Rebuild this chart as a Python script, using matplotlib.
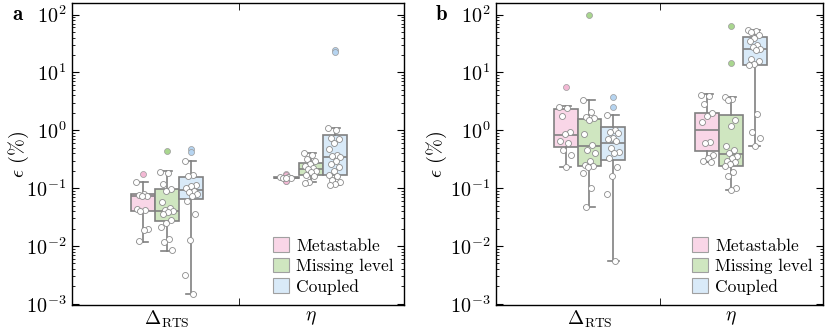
"""Box + strip plot of relative error for two parameter sets (panels a and b)."""

import matplotlib

matplotlib.use("Agg")
import matplotlib.pyplot as plt
import numpy as np
from matplotlib.patches import Patch

# ---------------------------------------------------------------- data
metrics = [r"$\Delta_{\mathrm{RTS}}$", r"$\eta$"]
models = ["Metastable", "Missing level", "Coupled"]
fill_colors = ["#f9d6e7", "#cfe6c0", "#d9eaf8"]
flier_colors = ["#f3b8d4", "#a9d68f", "#b6d4f0"]

# box statistics: (whislo, q1, med, q3, whishi), per panel -> metric -> model
stats_a = [
    [(0.0118, 0.0395, 0.074, 0.079, 0.13),
     (0.0083, 0.0273, 0.0395, 0.096, 0.195),
     (0.00147, 0.0647, 0.0927, 0.157, 0.298)],
    [(0.145, 0.148, 0.152, 0.157, 0.160),
     (0.126, 0.171, 0.214, 0.267, 0.405),
     (0.115, 0.171, 0.349, 0.84, 1.1)],
]
stats_b = [
    [(0.234, 0.52, 0.83, 2.34, 2.6),
     (0.0476, 0.244, 0.526, 1.57, 3.38),
     (0.00555, 0.31, 0.60, 1.12, 1.84)],
    [(0.28, 0.43, 1.01, 1.99, 4.25),
     (0.093, 0.237, 0.39, 1.84, 3.7),
     (0.54, 13.6, 25.5, 41.6, 55.0)],
]

fliers_a = [
    [[0.175], [0.444], [0.48, 0.415]],
    [[0.175, 0.17, 0.135, 0.132], [], [24.5, 22.3]],
]
fliers_b = [
    [[5.5], [100.0], [3.7, 2.5]],
    [[], [64.0, 14.6], []],
]

points_a = [
    [[0.13, 0.078, 0.076, 0.074, 0.072, 0.044, 0.042, 0.040, 0.020, 0.019, 0.012],
     [0.19, 0.185, 0.12, 0.095, 0.09, 0.058, 0.045, 0.042, 0.040, 0.038, 0.036,
      0.028, 0.025, 0.021, 0.013, 0.0115, 0.0085],
     [0.30, 0.17, 0.16, 0.115, 0.11, 0.10, 0.09, 0.085, 0.078, 0.072, 0.06,
      0.036, 0.0128, 0.0032, 0.0015]],
    [[0.158, 0.155, 0.152, 0.150, 0.148],
     [0.40, 0.38, 0.32, 0.30, 0.26, 0.24, 0.22, 0.21, 0.20, 0.19, 0.17, 0.16,
      0.13, 0.125],
     [1.1, 1.0, 0.75, 0.72, 0.6, 0.48, 0.38, 0.36, 0.34, 0.30, 0.26, 0.23, 0.20,
      0.17, 0.16, 0.14, 0.13, 0.12, 0.115]],
]
points_b = [
    [[2.5, 2.45, 1.75, 0.95, 0.85, 0.65, 0.6, 0.45, 0.38, 0.23],
     [3.3, 2.1, 1.7, 1.6, 1.5, 0.85, 0.55, 0.45, 0.4, 0.3, 0.25, 0.24, 0.23,
      0.18, 0.1, 0.048],
     [1.85, 1.0, 0.95, 0.9, 0.75, 0.7, 0.65, 0.5, 0.42, 0.4, 0.33, 0.23, 0.16,
      0.078, 0.0055]],
    [[4.1, 3.9, 2.9, 2.0, 1.8, 1.4, 0.62, 0.6, 0.37, 0.33, 0.29, 0.28],
     [3.8, 3.5, 3.3, 1.5, 1.2, 0.53, 0.45, 0.4, 0.36, 0.33, 0.3, 0.28, 0.26,
      0.24, 0.19, 0.16, 0.1, 0.093],
     [55, 52, 50, 45, 40, 35, 30, 27, 25, 24, 17, 16, 14, 13.5, 1.9, 0.95,
      0.75, 0.54]],
]

# letter, stats, fliers, points, axes rect, letter x (px), ylabel x (axes frac)
panels = [
    ("a", stats_a, fliers_a, points_a, [72 / 830, 26 / 331, 332 / 830, 302 / 331], 12, -0.125),
    ("b", stats_b, fliers_b, points_b, [496 / 830, 26 / 331, 327 / 830, 302 / 331], 436, -0.145),
]

plt.rcParams.update(
    {
        "font.family": "cmr10",
        "mathtext.fontset": "cm",
        "axes.unicode_minus": False,
        "axes.formatter.use_mathtext": True,
        "font.size": 14,
    }
)

EDGE = "#808080"
BOX_W = 0.168
OFFSETS = [-BOX_W, 0.0, BOX_W]

fig = plt.figure(figsize=(8.3, 3.31), dpi=100)

for letter, stats, fliers, points, rect, letter_x, ylab_x in panels:
    ax = fig.add_axes(rect)
    ax.set_yscale("log")
    for m, _ in enumerate(metrics):
        for k, _ in enumerate(models):
            lo, q1, med, q3, hi = stats[m][k]
            pos = m + OFFSETS[k]
            bstat = dict(whislo=lo, q1=q1, med=med, q3=q3, whishi=hi, fliers=fliers[m][k])
            ax.bxp(
                [bstat], positions=[pos], widths=BOX_W, capwidths=0.075,
                patch_artist=True, manage_ticks=False,
                boxprops=dict(facecolor=fill_colors[k], edgecolor=EDGE, linewidth=1.2),
                medianprops=dict(color=EDGE, linewidth=1.2),
                whiskerprops=dict(color=EDGE, linewidth=1.2),
                capprops=dict(color=EDGE, linewidth=1.2),
                flierprops=dict(marker="o", markersize=4.3, markerfacecolor=flier_colors[k],
                                markeredgecolor="#9a9a9a", markeredgewidth=0.5),
            )
            vals = np.array(points[m][k])
            idx = np.arange(len(vals))
            jitter = ((idx * 0.618) % 1.0 - 0.5) * 0.09
            ax.plot(pos + jitter, vals, "o", ms=4.3, mfc="white", mec="#8c8c8c",
                    mew=0.6, zorder=5, linestyle="none")

    ax.set_xlim(-0.66, 1.65)
    ax.set_ylim(10 ** -3.02, 10 ** 2.2)
    ax.set_xticks([0, 1])
    ax.set_xticklabels(metrics)
    ax.set_xticks([0.5], minor=True)
    ax.tick_params(axis="x", which="major", length=0, pad=3, labelsize=14)
    ax.tick_params(axis="x", which="minor", direction="in", length=5, top=True, bottom=True)
    ax.tick_params(axis="y", which="major", direction="in", length=5, right=True,
                   labelsize=14.5, pad=4)
    ax.tick_params(axis="y", which="minor", direction="in", length=2.5, right=True)
    ax.yaxis.set_minor_formatter(matplotlib.ticker.NullFormatter())
    ax.set_ylabel(r"$\epsilon$ (%)", fontsize=14.5)
    ax.yaxis.set_label_coords(ylab_x, 0.5)
    for sp in ax.spines.values():
        sp.set_linewidth(1.0)

    handles = [Patch(facecolor=c, edgecolor="#a0a0a0", linewidth=0.8) for c in fill_colors]
    ax.legend(handles, models, loc="lower right", frameon=False, fontsize=12.5,
              handlelength=0.9, handleheight=0.9, handletextpad=0.4,
              labelspacing=0.25, borderaxespad=0.2)

    fig.text(letter_x / 830, 0.955, letter, fontfamily="cmb10", fontsize=15,
             fontweight="bold", va="center")

fig.savefig("out.png", dpi=100)
